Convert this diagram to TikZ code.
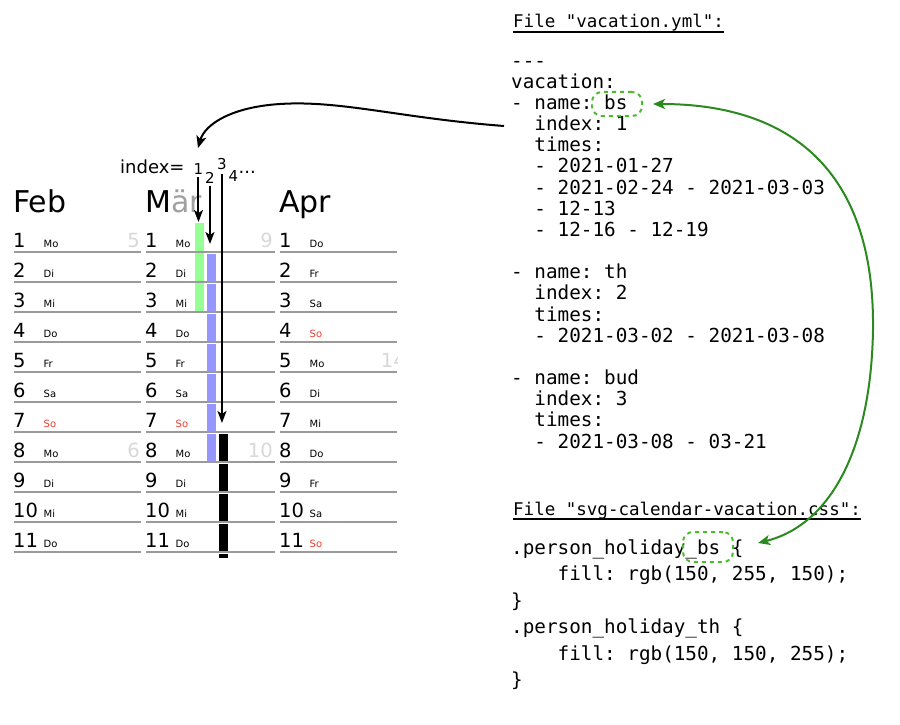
\documentclass[tikz,border=0pt]{standalone}
\usepackage{fontspec}
\setmainfont{DejaVu Sans}
\setmonofont{DejaVu Sans Mono}
\usetikzlibrary{arrows.meta}
\definecolor{linegray}{HTML}{9A9A9A}
\definecolor{wkgray}{HTML}{D8D8D8}
\definecolor{sored}{HTML}{F03C2D}
\definecolor{bsgreen}{RGB}{150,255,150}
\definecolor{thblue}{RGB}{150,150,255}
\definecolor{arrowgreen}{HTML}{2A8A1E}
\definecolor{boxgreen}{HTML}{4CBB2C}
\definecolor{margray}{HTML}{A0A0A0}
\begin{document}
\begin{tikzpicture}[x=1pt,y=-1pt,
  daynum/.style={anchor=base west, inner sep=0pt, font=\fontsize{19.5}{20}\selectfont},
  wday/.style={anchor=base west, inner sep=0pt, font=\fontsize{10}{11}\selectfont},
  wknum/.style={anchor=base east, inner sep=0pt, text=wkgray, font=\fontsize{19.5}{20}\selectfont},
  month/.style={anchor=base west, inner sep=0pt, font=\fontsize{30}{32}\selectfont},
  rowline/.style={draw=linegray, line width=1.6pt},
  code/.style={anchor=base west, inner sep=0pt, font=\ttfamily\fontsize{19.3}{21}\selectfont},
  hdr/.style={anchor=base west, inner sep=0pt, font=\ttfamily\fontsize{17.5}{20}\selectfont},
  idx/.style={anchor=base west, inner sep=0pt, font=\fontsize{18}{20}\selectfont},
  idxd/.style={anchor=base west, inner sep=0pt, font=\fontsize{15}{16}\selectfont},
  iarrow/.style={draw=black, line width=2pt, -{Stealth[length=12pt,width=9pt,inset=3pt]}},
  bigarrow/.style={draw=black, line width=2pt, -{Stealth[length=12pt,width=10pt,inset=3pt]}},
  garrow/.style={draw=arrowgreen, line width=2pt, {Stealth[length=12pt,width=10pt,inset=3pt]}-{Stealth[length=12pt,width=10pt,inset=3pt]}},
  dashbox/.style={draw=boxgreen, line width=2pt, dash pattern=on 4pt off 4pt, rounded corners=10pt, inner sep=0pt},
]
\fill[white] (0,0) rectangle (900,725);
\useasboundingbox (0,0) rectangle (900,725);

% ---------- calendar ----------
\node[month] (feb) at (13,212) {Feb};
\node[month] (mar) at (145,212) {M\textcolor{margray}{är}};
\node[month] (apr) at (279,212) {Apr};

\foreach \n/\w/\c in {1/Mo/black,2/Di/black,3/Mi/black,4/Do/black,5/Fr/black,6/Sa/black,7/So/sored,8/Mo/black,9/Di/black,10/Mi/black,11/Do/black}{
  \pgfmathsetmacro\ly{252+30*(\n-1)}
  \draw[rowline] (14,\ly) -- (141,\ly);
  \node[daynum] (feb-n\n) at (13,{\ly-5}) {\n};
  \node[wday, text=\c] (feb-w\n) at (43.5,{\ly-5}) {\w};
  \draw[rowline] (146,\ly) -- (275,\ly);
  \node[daynum] (mar-n\n) at (145,{\ly-5}) {\n};
  \node[wday, text=\c] (mar-w\n) at (175.5,{\ly-5}) {\w};
}
\foreach \n/\w/\c in {1/Do/black,2/Fr/black,3/Sa/black,4/So/sored,5/Mo/black,6/Di/black,7/Mi/black,8/Do/black,9/Fr/black,10/Sa/black,11/So/sored}{
  \pgfmathsetmacro\ly{252+30*(\n-1)}
  \draw[rowline] (280,\ly) -- (397,\ly);
  \node[daynum] (apr-n\n) at (279,{\ly-5}) {\n};
  \node[wday, text=\c] (apr-w\n) at (309.5,{\ly-5}) {\w};
}
% week numbers
\node[wknum] (wk5) at (140,247) {5};
\node[wknum] (wk6) at (140,457) {6};
\node[wknum] (wk9) at (273,247) {9};
\node[wknum] (wk10) at (273,457) {10};
\begin{scope}
  \clip (0,0) rectangle (397,725);
  \node[wknum] (wk14) at (406,367) {14};
\end{scope}

% vacation bars
\foreach \n in {1,2,3}{
  \fill[bsgreen] (195,{222+30*(\n-1)+1}) rectangle (203.5,{252+30*(\n-1)-1.5});
}
\foreach \n in {2,...,8}{
  \fill[thblue] (207,{222+30*(\n-1)+1.5}) rectangle (215.5,{252+30*(\n-1)-1.5});
}
\foreach \n in {8,...,11}{
  \fill[black] (219,{222+30*(\n-1)+1.5}) rectangle (227.5,{252+30*(\n-1)-1.5});
}
\fill[black] (219,554) rectangle (227.5,558);

% index label
\node[idx] (idxlbl) at (120,173) {index=};
\node[idxd] (i1) at (193.5,174) {1};
\node[idxd] (i2) at (205,183) {2};
\node[idxd] (i3) at (217,169.5) {3};
\node[idxd] (i4) at (228.5,181) {4};
\node[idx] (idots) at (238.5,173) {...};

\coordinate (bstop) at (199,222);
\coordinate (thtop) at (210,244);
\coordinate (budtop) at (222,423);
\draw[iarrow, shorten <=3pt] (i1.south) -- (i1.south |- bstop);
\draw[iarrow, shorten <=3pt] (i2.south) -- (i2.south |- thtop);
\draw[iarrow, shorten <=4pt] (i3.south) -- (i3.south |- budtop);

% ---------- YAML file ----------
\node[hdr] (h1) at (513,28) {File "vacation.yml":};
\draw[line width=1.2pt] ([yshift=-4pt]h1.base west) -- ([yshift=-4pt]h1.base east);

\node[code] (y0) at (511,67) {---};
\node[code] (y1) at (511,88.2) {vacation:};
\node[code] (y2) at (511,109.3) {- name: bs};
\node[code] (y3) at (511,130.5) {\hphantom{xx}index: 1};
\node[code] (y4) at (511,151.7) {\hphantom{xx}times:};
\node[code] (y5) at (511,172.9) {\hphantom{xx}- 2021-01-27};
\node[code] (y6) at (511,194) {\hphantom{xx}- 2021-02-24 - 2021-03-03};
\node[code] (y7) at (511,215.2) {\hphantom{xx}- 12-13};
\node[code] (y8) at (511,236.4) {\hphantom{xx}- 12-16 - 12-19};
\node[code] (y10) at (511,278.7) {- name: th};
\node[code] (y11) at (511,299.9) {\hphantom{xx}index: 2};
\node[code] (y12) at (511,321) {\hphantom{xx}times:};
\node[code] (y13) at (511,342.2) {\hphantom{xx}- 2021-03-02 - 2021-03-08};
\node[code] (y15) at (511,384.6) {- name: bud};
\node[code] (y16) at (511,405.7) {\hphantom{xx}index: 3};
\node[code] (y17) at (511,426.9) {\hphantom{xx}times:};
\node[code] (y18) at (511,448) {\hphantom{xx}- 2021-03-08 - 03-21};

% ---------- CSS file ----------
\node[hdr] (h2) at (513,515) {File "svg-calendar-vacation.css":};
\draw[line width=1.2pt] ([yshift=-4pt]h2.base west) -- ([yshift=-4pt]h2.base east);

\node[code] (c1) at (511,554) {.person\_holiday\_bs \{};
\node[code] (c2) at (511,580.4) {\hphantom{xxxx}fill: rgb(150, 255, 150);};
\node[code] (c3) at (511,607) {\}};
\node[code] (c4) at (511,633.5) {.person\_holiday\_th \{};
\node[code] (c5) at (511,660) {\hphantom{xxxx}fill: rgb(150, 150, 255);};
\node[code] (c6) at (511,686) {\}};

% dashed highlight boxes
\node[dashbox, minimum width=50pt, minimum height=24pt] (bsY) at (617,104) {};
\node[dashbox, minimum width=50pt, minimum height=30pt] (bsC) at (708,547) {};

% connectors
\coordinate (bsYtip) at ([xshift=10pt]bsY.east);
\coordinate (bsCtip) at (758,543);
\draw[garrow] (bsYtip) .. controls (790,104) and (875,170) .. (873,330)
  .. controls (871,450) and (830,525) .. (bsCtip);

\coordinate (ystart) at (504,126);
\coordinate (idxtip) at (198,148);
\draw[bigarrow] (ystart) .. controls (400,118) and (340,100) .. (280,104)
  .. controls (232,107) and (205,124) .. (idxtip);
\end{tikzpicture}
\end{document}
